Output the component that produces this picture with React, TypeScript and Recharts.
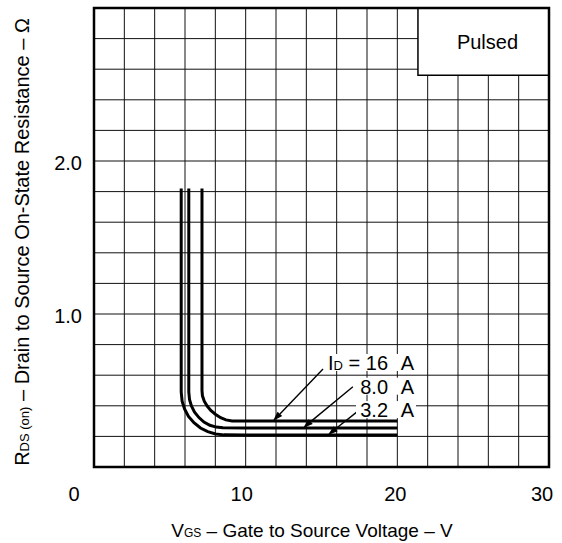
import React from "react";
import {
  LineChart,
  Line,
  XAxis,
  YAxis,
  CartesianGrid,
  ReferenceArea,
  ReferenceLine,
  ReferenceDot,
  Label,
} from "recharts";

const FONT = '"Liberation Sans", Arial, Helvetica, sans-serif';

// grid every 2 V / 0.2 ohm, labels only on some of them
const xTicks = [0, 2, 4, 6, 8, 10, 12, 14, 16, 18, 20, 22, 24, 26, 28, 30];
const xLabels = [0, 10, 20, 30];
const yTicks = [0, 0.2, 0.4, 0.6, 0.8, 1.0, 1.2, 1.4, 1.6, 1.8, 2.0, 2.2, 2.4, 2.6, 2.8, 3.0];
const yLabels = [1, 2];

// ID = 16 A
const vgs16 = [7.12, 7.12, 7.12, 7.15, 7.27, 7.45, 7.7, 8.0, 8.35, 8.7, 9.1, 10, 20];
const rds16 = [1.82, 1.0, 0.5, 0.465, 0.43, 0.4, 0.37, 0.345, 0.322, 0.308, 0.301, 0.3, 0.3];
// ID = 8.0 A
const vgs8 = [6.25, 6.25, 6.25, 6.3, 6.42, 6.62, 6.92, 7.25, 7.64, 8.06, 8.5, 10, 20];
const rds8 = [1.82, 1.0, 0.49, 0.44, 0.4, 0.36, 0.323, 0.294, 0.273, 0.261, 0.256, 0.255, 0.255];
// ID = 3.2 A
const vgs3 = [5.75, 5.75, 5.75, 5.81, 5.97, 6.23, 6.59, 7.02, 7.5, 8.02, 8.57, 10, 20];
const rds3 = [1.82, 1.0, 0.49, 0.43, 0.38, 0.33, 0.29, 0.255, 0.231, 0.216, 0.21, 0.209, 0.209];

// annotation arrows (from label to curve) and label anchors
const labelNums = ["16", "8.0", "3.2"];
const labelR = [0.68, 0.525, 0.372];
const labelV = 21.1;
const arrowFromV = [15.1, 17.07, 17.34];
const arrowFromR = [0.64, 0.525, 0.36];
const arrowToV = [11.8, 13.78, 15.42];
const arrowToR = [0.3, 0.255, 0.209];

const zip = (v: number[], r: number[]) => v.map((x, i) => ({ v: x, r: r[i] }));
const curves = [zip(vgs16, rds16), zip(vgs8, rds8), zip(vgs3, rds3)];

const XTick = (props: any) => {
  const { x, payload } = props;
  if (!xLabels.includes(payload.value)) return <g />;
  const shift = payload.value === 0 ? -20 : payload.value === 30 ? -7 : payload.value === 20 ? -2 : -4;
  return (
    <text x={x + shift} y={501} textAnchor="middle" fontSize={20} fontFamily={FONT} fill="#000">
      {payload.value}
    </text>
  );
};

const YTick = (props: any) => {
  const { y, payload } = props;
  if (!yLabels.includes(payload.value)) return <g />;
  return (
    <text x={82} y={y + 9} textAnchor="end" fontSize={20} fontFamily={FONT} fill="#000">
      {payload.value.toFixed(1)}
    </text>
  );
};

const ArrowShape = (props: any) => {
  const { x1, y1, x2, y2 } = props;
  const ang = Math.atan2(y2 - y1, x2 - x1);
  const len = 10;
  const half = 3.2;
  const bx = x2 - len * Math.cos(ang);
  const by = y2 - len * Math.sin(ang);
  const pts = [
    `${x2},${y2}`,
    `${bx + half * Math.sin(ang)},${by - half * Math.cos(ang)}`,
    `${bx - half * Math.sin(ang)},${by + half * Math.cos(ang)}`,
  ].join(" ");
  return (
    <g>
      <line x1={x1} y1={y1} x2={bx} y2={by} stroke="#000" strokeWidth={1.4} />
      <polygon points={pts} fill="#000" />
    </g>
  );
};

const makeLabel = (i: number) => (props: any) => {
  const { cx, cy } = props;
  const w = i === 0 ? 88 : 58;
  return (
    <g fontFamily={FONT} fontSize={20} fill="#000">
      <rect x={cx - w} y={cy - 9} width={w + 2} height={17} fill="#fff" />
      <text x={cx - 26} y={cy + 7} textAnchor="end">
        {i === 0 ? (
          <>
            <tspan>I</tspan>
            <tspan fontSize={13}>D</tspan>
            <tspan> = {labelNums[i]}</tspan>
          </>
        ) : (
          labelNums[i]
        )}
      </text>
      <text x={cx} y={cy + 7} textAnchor="end">
        A
      </text>
    </g>
  );
};

export default function App() {
  return (
    <div style={{ position: "absolute", left: 0, top: 0, background: "#fff" }}>
      <LineChart width={562} height={543} margin={{ top: 8, right: 13, left: 0, bottom: 0 }}>
        <CartesianGrid stroke="#111" strokeWidth={1} />
        <XAxis
          dataKey="v"
          type="number"
          domain={[0, 30]}
          ticks={xTicks}
          interval={0}
          height={76}
          axisLine={false}
          tickLine={false}
          tick={<XTick />}
          allowDataOverflow
        >
          <Label
            content={() => (
              <text x={312} y={537} textAnchor="middle" fontSize={19} fontFamily={FONT} fill="#000">
                <tspan>V</tspan>
                <tspan fontSize={12}>GS</tspan>
                <tspan> – Gate to Source Voltage – V</tspan>
              </text>
            )}
          />
        </XAxis>
        <YAxis
          type="number"
          domain={[0, 3]}
          ticks={yTicks}
          interval={0}
          width={94}
          axisLine={false}
          tickLine={false}
          tick={<YTick />}
          allowDataOverflow
        >
          <Label
            content={() => (
              <text
                x={29}
                y={242}
                transform="rotate(-90 29 242)"
                textAnchor="middle"
                fontSize={20}
                fontFamily={FONT}
                fill="#000"
              >
                <tspan>R</tspan>
                <tspan fontSize={13}>DS (on)</tspan>
                <tspan> – Drain to Source On-State Resistance – Ω</tspan>
              </text>
            )}
          />
        </YAxis>

        <ReferenceArea
          x1={21.36}
          x2={30}
          y1={2.56}
          y2={3}
          fill="#fff"
          fillOpacity={1}
          stroke="#000"
          strokeWidth={1.5}
          label={{ value: "Pulsed", position: "center", fill: "#000", fontSize: 20, fontFamily: FONT, dx: 4 }}
        />

        {curves.map((d, i) => (
          <Line
            key={i}
            data={d}
            dataKey="r"
            type="linear"
            stroke="#000"
            strokeWidth={3}
            dot={false}
            activeDot={false}
            isAnimationActive={false}
          />
        ))}

        {labelNums.map((_, i) => (
          <ReferenceDot key={"l" + i} x={labelV} y={labelR[i]} r={0} shape={makeLabel(i)} />
        ))}
        {labelNums.map((_, i) => (
          <ReferenceLine
            key={"a" + i}
            segment={[
              { x: arrowFromV[i], y: arrowFromR[i] },
              { x: arrowToV[i], y: arrowToR[i] },
            ]}
            shape={ArrowShape}
          />
        ))}

        <ReferenceArea x1={0} x2={30} y1={0} y2={3} fill="none" fillOpacity={0} stroke="#000" strokeWidth={2.5} />
      </LineChart>
    </div>
  );
}
